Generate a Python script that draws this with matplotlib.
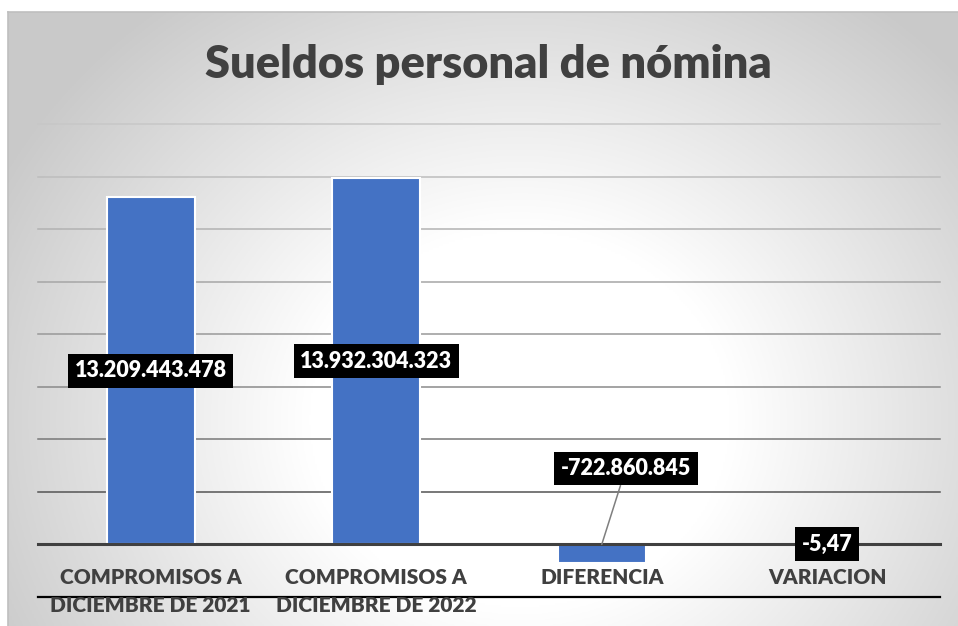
import numpy as np
import matplotlib.pyplot as plt
from matplotlib.lines import Line2D

plt.rcParams['font.family'] = ['Lato', 'DejaVu Sans']

titulo = "Sueldos personal de nómina"
categorias = ["COMPROMISOS A\nDICIEMBRE DE 2021", "COMPROMISOS A\nDICIEMBRE DE 2022",
              "DIFERENCIA", "VARIACION"]
valores = [13209443478, 13932304323, -722860845, -5.47]
y_ticks = np.arange(-2e9, 16e9 + 1, 2e9)


def formato(v):
    # formato espaÃ±ol: punto para miles, coma para decimales
    if abs(v) < 1000:
        return f"{v:.2f}".replace(".", ",")
    return f"{v:,.0f}".replace(",", ".")


W, H = 958, 626
fig = plt.figure(figsize=(W / 100, H / 100), dpi=100)
fig.patch.set_facecolor("white")

# fondo con degradado radial
top, left = 11.5, 8
bg = fig.add_axes([left / W, 0, 1 - left / W, (H - top) / H])
xs = np.linspace(left, W, 475)
ys = np.linspace(top, H, 310)
X, Y = np.meshgrid(xs, ys)
u = (X - 520) / 470
v = (Y - 420) / 420
r = np.sqrt(u**2 + v**2)
g = 1 - 0.21 * np.clip((r - 0.45) / 0.8, 0, 1)
img = np.dstack([g, g, g])
bg.imshow(img, extent=[0, 1, 0, 1], aspect="auto", origin="upper")
bg.axis("off")
fig.add_artist(Line2D([left / W, 1], [1 - top / H] * 2, color="#bfbfbf", lw=1.2))
fig.add_artist(Line2D([left / W] * 2, [0, 1 - top / H], color="#bfbfbf", lw=1.2))

fig.text(488 / W, (H - 78) / H, titulo, ha="center", va="baseline",
         fontsize=32.5, fontweight="heavy", color="#404040")

ax = fig.add_axes([38 / W, (H - 597) / H, 902 / W, 473 / H])
ax.patch.set_alpha(0)
ax.set_xlim(-0.5, 3.5)
ax.set_ylim(y_ticks[0], y_ticks[-1])
ax.axis("off")

for t in y_ticks:
    if t == 0:
        ax.axhline(t, color="#404040", lw=2.2, zorder=3, clip_on=False)
    elif t == y_ticks[0]:
        ax.axhline(t, color="black", lw=1.6, zorder=3, clip_on=False)
    else:
        f = (t - 2e9) / (y_ticks[-1] - 2e9)
        gris = 0.33 + 0.45 * f**0.6
        ax.axhline(t, color=(gris, gris, gris), lw=1.1, zorder=1, clip_on=False)

x = np.arange(len(categorias))
ax.bar(x, valores, width=0.39, color="#4472C4", edgecolor="white", linewidth=1.5, zorder=2)

caja = dict(boxstyle="square,pad=0.3", fc="black", ec="none")
for i, val in enumerate(valores):
    if i == 2:
        ax.annotate(formato(val), xy=(i, 0), xytext=(i + 0.107, 2.89e9),
                    ha="center", va="center", fontsize=15.5, fontweight="heavy",
                    color="white", bbox=caja, zorder=6,
                    arrowprops=dict(arrowstyle="-", color="#7f7f7f", lw=1.1,
                                    shrinkA=0, shrinkB=0))
    else:
        ax.text(i, val / 2, formato(val), ha="center", va="center", fontsize=15.5,
                fontweight="heavy", color="white", bbox=caja, zorder=6)

# etiquetas de categorÃ­a, una lÃ­nea cada vez
for i, cat in enumerate(categorias):
    for k, linea in enumerate(cat.split("\n")):
        ax.annotate(linea, xy=(i, 0), xytext=(0, -28.3 - 20.6 * k),
                    textcoords="offset points", ha="center", va="baseline",
                    fontsize=15, fontweight="heavy", color="#404040",
                    annotation_clip=False)

fig.savefig("out.png", dpi=100)
